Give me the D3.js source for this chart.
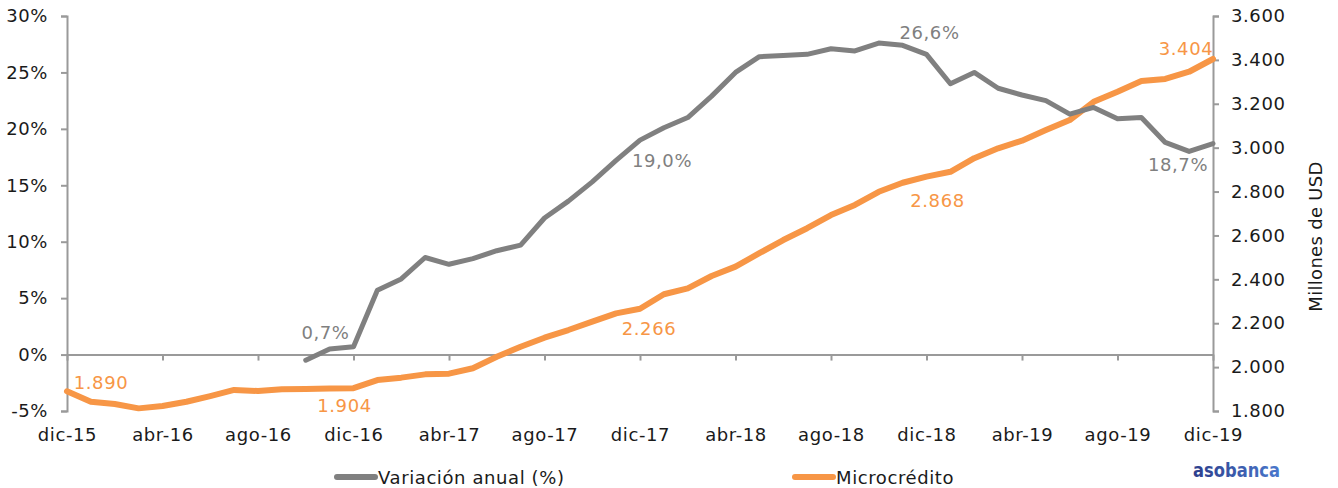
<!DOCTYPE html>
<html>
<head>
<meta charset="utf-8">
<script src="https://cdn.jsdelivr.net/npm/d3@7/dist/d3.min.js"></script>
<style>
  html, body { margin: 0; padding: 0; background: #fff; }
  svg { display: block; font-family: "DejaVu Sans", sans-serif; }
</style>
</head>
<body>
<svg id="chart" width="1338" height="488"></svg>
<script>
// ---- Data ----
const categories = [
  "dic-15","ene-16","feb-16","mar-16","abr-16","may-16","jun-16","jul-16","ago-16","sep-16","oct-16","nov-16",
  "dic-16","ene-17","feb-17","mar-17","abr-17","may-17","jun-17","jul-17","ago-17","sep-17","oct-17","nov-17",
  "dic-17","ene-18","feb-18","mar-18","abr-18","may-18","jun-18","jul-18","ago-18","sep-18","oct-18","nov-18",
  "dic-18","ene-19","feb-19","mar-19","abr-19","may-19","jun-19","jul-19","ago-19","sep-19","oct-19","nov-19",
  "dic-19"
];
const variacionAnual = [
  null,null,null,null,null,null,null,null,null,null,-0.5,0.5,
  0.7,5.7,6.7,8.6,8.0,8.5,9.2,9.7,12.1,13.6,15.3,17.2,
  19.0,20.1,21.0,22.9,25.0,26.4,26.5,26.6,27.1,26.9,27.6,27.4,
  26.6,24.0,25.0,23.6,23.0,22.5,21.3,21.9,20.9,21.0,18.8,18.0,
  18.7
];
const microcredito = [
  1890,1842,1832,1812,1823,1842,1868,1896,1891,1899,1900,1902,
  1904,1941,1952,1967,1970,1995,2047,2093,2134,2169,2207,2245,
  2266,2332,2359,2415,2458,2519,2579,2633,2693,2739,2799,2840,
  2868,2890,2952,2997,3032,3080,3126,3209,3255,3304,3313,3346,
  3404
];
const xTickLabels = ["dic-15","abr-16","ago-16","dic-16","abr-17","ago-17","dic-17","abr-18","ago-18","dic-18","abr-19","ago-19","dic-19"];
const leftTicks = [-5,0,5,10,15,20,25,30];
const rightTicks = [1800,2000,2200,2400,2600,2800,3000,3200,3400,3600];
const annotations = [
  {series:"var", i:12, text:"0,7%", dx:-28, dy:-14},
  {series:"var", i:24, text:"19,0%", dx:22, dy:20},
  {series:"var", i:36, text:"26,6%", dx:3, dy:-22},
  {series:"var", i:48, text:"18,7%", dx:-35, dy:21},
  {series:"mic", i:0, text:"1.890", dx:34, dy:-9},
  {series:"mic", i:12, text:"1.904", dx:-9, dy:17},
  {series:"mic", i:24, text:"2.266", dx:9, dy:20},
  {series:"mic", i:36, text:"2.868", dx:11, dy:24},
  {series:"mic", i:48, text:"3.404", dx:-27, dy:-11}
];

// ---- Layout ----
const L = 67, R = 1213, T = 16, B = 411;
const grayC = "#808080", orangeC = "#F79646", axisC = "#9a9a9a", textC = "#1a1a1a";
const FS = "18px", LS = "0.6px";
const svg = d3.select("#chart");

const x = d3.scalePoint().domain(categories).range([L, R]);
const yL = d3.scaleLinear().domain([-5, 30]).range([B, T]);
const yR = d3.scaleLinear().domain([1800, 3600]).range([B, T]);

// Left axis
const leftAxis = svg.append("g").attr("transform", `translate(${L},0)`)
  .call(d3.axisLeft(yL).tickValues(leftTicks).tickFormat(d => d + "%").tickSize(6).tickPadding(13));
// Right axis
const rightAxis = svg.append("g").attr("transform", `translate(${R},0)`)
  .call(d3.axisRight(yR).tickValues(rightTicks).tickFormat(d => d3.format(",")(d).replace(",", ".")).tickSize(6).tickPadding(12));
// Zero-line x axis
const xAxis = svg.append("g").attr("transform", `translate(0,${yL(0)})`)
  .call(d3.axisBottom(x).tickValues(xTickLabels).tickSize(6).tickSizeOuter(0).tickFormat(() => ""));
// x labels at bottom
const xLab = svg.append("g").attr("transform", `translate(0,${B})`)
  .call(d3.axisBottom(x).tickValues(xTickLabels).tickSize(0).tickPadding(17));
xLab.select(".domain").remove();

[leftAxis, rightAxis, xAxis].forEach(g => {
  g.select(".domain").attr("stroke", axisC).attr("stroke-width", 2);
  g.selectAll(".tick line").attr("stroke", axisC).attr("stroke-width", 2);
});
[leftAxis, rightAxis, xLab].forEach(g => {
  g.selectAll(".tick text").attr("fill", textC).style("font-size", FS)
    .style("letter-spacing", LS).style("font-family", "DejaVu Sans");
});

// Right axis title
svg.append("text")
  .attr("transform", `translate(1322,${(T + B) / 2 + 23}) rotate(-90)`)
  .attr("text-anchor", "middle")
  .attr("fill", textC).style("font-size", FS).style("letter-spacing", "0.3px")
  .text("Millones de USD");

// Lines
const lineVar = d3.line().defined(d => d != null).x((d, i) => x(categories[i])).y(d => yL(d));
const lineMic = d3.line().x((d, i) => x(categories[i])).y(d => yR(d));

svg.append("path").datum(microcredito)
  .attr("d", lineMic).attr("fill", "none").attr("stroke", orangeC)
  .attr("stroke-width", 6).attr("stroke-linejoin", "round").attr("stroke-linecap", "round");
svg.append("path").datum(variacionAnual)
  .attr("d", lineVar).attr("fill", "none").attr("stroke", grayC)
  .attr("stroke-width", 5).attr("stroke-linejoin", "round").attr("stroke-linecap", "round");

// Annotations
svg.append("g").selectAll("text").data(annotations).join("text")
  .attr("x", d => x(categories[d.i]) + d.dx)
  .attr("y", d => (d.series === "var" ? yL(variacionAnual[d.i]) : yR(microcredito[d.i])) + d.dy)
  .attr("text-anchor", "middle").attr("dominant-baseline", "central")
  .attr("fill", d => d.series === "var" ? grayC : orangeC)
  .style("font-size", FS).style("letter-spacing", LS)
  .text(d => d.text);

// Legend
const legend = [
  {label: "Variación anual (%)", color: grayC, x: 334},
  {label: "Microcrédito", color: orangeC, x: 792}
];
const lg = svg.append("g").selectAll("g").data(legend).join("g")
  .attr("transform", d => `translate(${d.x},477)`);
lg.append("line").attr("x1", 3).attr("x2", 41).attr("y1", 0).attr("y2", 0)
  .attr("stroke", d => d.color).attr("stroke-width", 6).attr("stroke-linecap", "round");
lg.append("text").attr("x", 44).attr("y", 0).attr("dominant-baseline", "central")
  .attr("fill", textC).style("font-size", FS).style("letter-spacing", LS).text(d => d.label);

// Logo
const grad = svg.append("defs").append("linearGradient").attr("id", "logoGrad")
  .attr("x1", "0%").attr("x2", "100%");
grad.append("stop").attr("offset", "0%").attr("stop-color", "#2c3e8c");
grad.append("stop").attr("offset", "100%").attr("stop-color", "#4a78cc");
svg.append("text").attr("x", 1193).attr("y", 477)
  .attr("textLength", 87).attr("lengthAdjust", "spacingAndGlyphs")
  .attr("fill", "url(#logoGrad)")
  .style("font-size", "19px").style("font-weight", "bold").style("font-family", "DejaVu Sans")
  .text("asobanca");
</script>
</body>
</html>
